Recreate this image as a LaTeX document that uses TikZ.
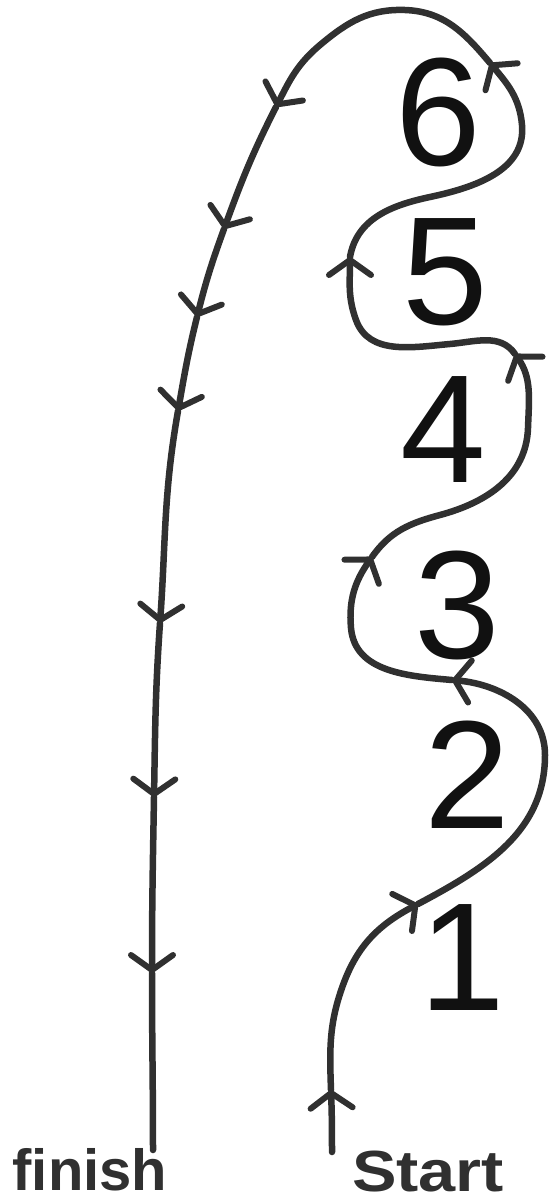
\documentclass[tikz,border=0pt]{standalone}
\usepackage{fontspec}
\setmainfont{Liberation Sans}
\usetikzlibrary{arrows.meta}
\definecolor{ink}{HTML}{303030}
\definecolor{digit}{HTML}{111111}
\begin{document}
\begin{tikzpicture}[x=1pt,y=1pt,
  curve/.style={draw=ink, line width=6.5pt, line cap=round, line join=round},
  arr/.style={curve, -{Straight Barb[length=15pt,width=42pt,line width=6pt,round]}},
  num/.style={text=digit, font=\fontsize{154}{154}\selectfont, inner sep=0pt},
  lbl/.style={text=ink, font=\fontsize{58}{58}\selectfont\bfseries, inner sep=0pt}]
\fill[white] (0,-1202) rectangle (555,0);
\useasboundingbox (0,-1202) rectangle (555,0);
% waypoints
\coordinate (s0) at (332,-1152);
\coordinate (a1) at (331,-1090);
\coordinate (w1) at (343,-985);
\coordinate (a2) at (418,-904);
\coordinate (w2) at (545,-755);
\coordinate (a3) at (452,-680);
\coordinate (w4) at (351,-628);
\coordinate (a4) at (372,-557);
\coordinate (w5) at (440,-515);
\coordinate (w6) at (528,-428);
\coordinate (a5) at (515,-354);
\coordinate (w7) at (450,-344);
\coordinate (w8) at (356,-320);
\coordinate (a6) at (350,-257);
\coordinate (w9) at (430,-197);
\coordinate (w10) at (522,-125);
\coordinate (a7) at (490,-63);
\coordinate (w11) at (405,-10);
\coordinate (w12) at (320,-45);
\coordinate (a8) at (276,-107);
\coordinate (a9) at (224,-229);
\coordinate (a10) at (197,-317);
\coordinate (a11) at (178,-411);
\coordinate (a12) at (160,-623);
\coordinate (a13) at (154,-797);
\coordinate (a14) at (152,-973);
\coordinate (e0) at (153,-1150);
% path
\draw[arr] (s0) to[out=90,in=-88] (a1);
\draw[arr] (a1) to[out=92,in=250] (w1) to[out=70,in=208] (a2);
\draw[arr] (a2) to[out=28,in=270] (w2) to[out=90,in=-5] (a3);
\draw[arr] (a3) to[out=175,in=275] (w4) to[out=95,in=235] (a4);
\draw[arr] (a4) to[out=55,in=195] (w5) to[out=15,in=268] (w6) to[out=88,in=305] (a5);
\draw[arr] (a5) to[out=125,in=5] (w7) to[out=185,in=-70] (w8) to[out=110,in=-90] (a6);
\draw[arr] (a6) to[out=80,in=192] (w9) to[out=12,in=275] (w10) to[out=95,in=-50] (a7);
\draw[arr] (a7) to[out=130,in=-2] (w11) to[out=178,in=40] (w12) to[out=220,in=63] (a8);
\draw[arr] (a8) to[out=243,in=70] (a9);
\draw[arr] (a9) to[out=250,in=76] (a10);
\draw[arr] (a10) to[out=256,in=80] (a11);
\draw[arr] (a11) to[out=260,in=86] (a12);
\draw[arr] (a12) to[out=266,in=89] (a13);
\draw[arr] (a13) to[out=269,in=90] (a14);
\draw[curve] (a14) to[out=270,in=90] (e0);
% numbers
\node[num] (n6) at (438,-112) {6};
\node[num] (n5) at (445,-272) {5};
\node[num] (n4) at (443,-430) {4};
\node[num] (n3) at (457,-605) {3};
\node[num] (n2) at (467,-775) {2};
\node[num] (n1) at (462,-958) {1};
% labels
\node[lbl] (fin) at (90,-1170) {finish};
\node[lbl] (sta) at (428,-1172) {\scalebox{1.15}[1]{Start}};
\end{tikzpicture}
\end{document}
